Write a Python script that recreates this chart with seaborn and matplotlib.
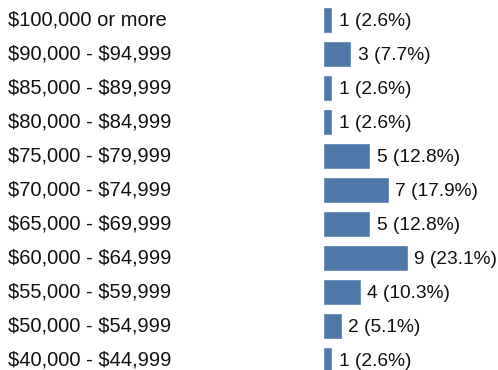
import matplotlib
matplotlib.use("Agg")
import matplotlib.pyplot as plt
import matplotlib.transforms as mtransforms
import seaborn as sns
import pandas as pd

# Salary brackets and respondent counts
brackets = [
    "$100,000 or more",
    "$90,000 - $94,999",
    "$85,000 - $89,999",
    "$80,000 - $84,999",
    "$75,000 - $79,999",
    "$70,000 - $74,999",
    "$65,000 - $69,999",
    "$60,000 - $64,999",
    "$55,000 - $59,999",
    "$50,000 - $54,999",
    "$40,000 - $44,999",
]
counts = [1, 3, 1, 1, 5, 7, 5, 9, 4, 2, 1]
percents = [2.6, 7.7, 2.6, 2.6, 12.8, 17.9, 12.8, 23.1, 10.3, 5.1, 2.6]

df = pd.DataFrame({"bracket": brackets, "count": counts, "pct": percents})

sns.set_theme(style="white")
plt.rcParams["font.family"] = ["Liberation Sans", "DejaVu Sans"]
plt.rcParams["text.parse_math"] = False

W, H, DPI = 498, 370, 100
FS = 14.5
FS_VAL = 13.8
fig = plt.figure(figsize=(W / DPI, H / DPI), dpi=DPI)
ax = fig.add_axes([323 / W, 0, 1 - 323 / W, 1])

bar_color = "#4e78a8"
sns.barplot(data=df, x="count", y="bracket", orient="h", color=bar_color,
            width=0.76, saturation=1, ax=ax)

px_per_unit = 9.4
ax.set_xlim(0, (W - 323) / px_per_unit)
row_gap = 34
ax.set_ylim((H - 20) / row_gap, -20 / row_gap)

for i, (c, p) in enumerate(zip(counts, percents)):
    ax.text(c + 0.7, i, f"{c} ({p}%)", va="center_baseline", ha="left",
            fontsize=FS_VAL, color="#111111")

ax.set_xlabel("")
ax.set_ylabel("")
ax.set_xticks([])
ax.tick_params(axis="y", length=0, pad=(323 - 8) * 72 / DPI)
lift = mtransforms.ScaledTranslation(0, 1.5 / DPI, fig.dpi_scale_trans)
for lab in ax.get_yticklabels():
    lab.set_horizontalalignment("left")
    lab.set_verticalalignment("center_baseline")
    lab.set_fontsize(FS)
    lab.set_color("#111111")
    lab.set_transform(lab.get_transform() + lift)
for s in ax.spines.values():
    s.set_visible(False)

fig.savefig("out.png", dpi=DPI)
